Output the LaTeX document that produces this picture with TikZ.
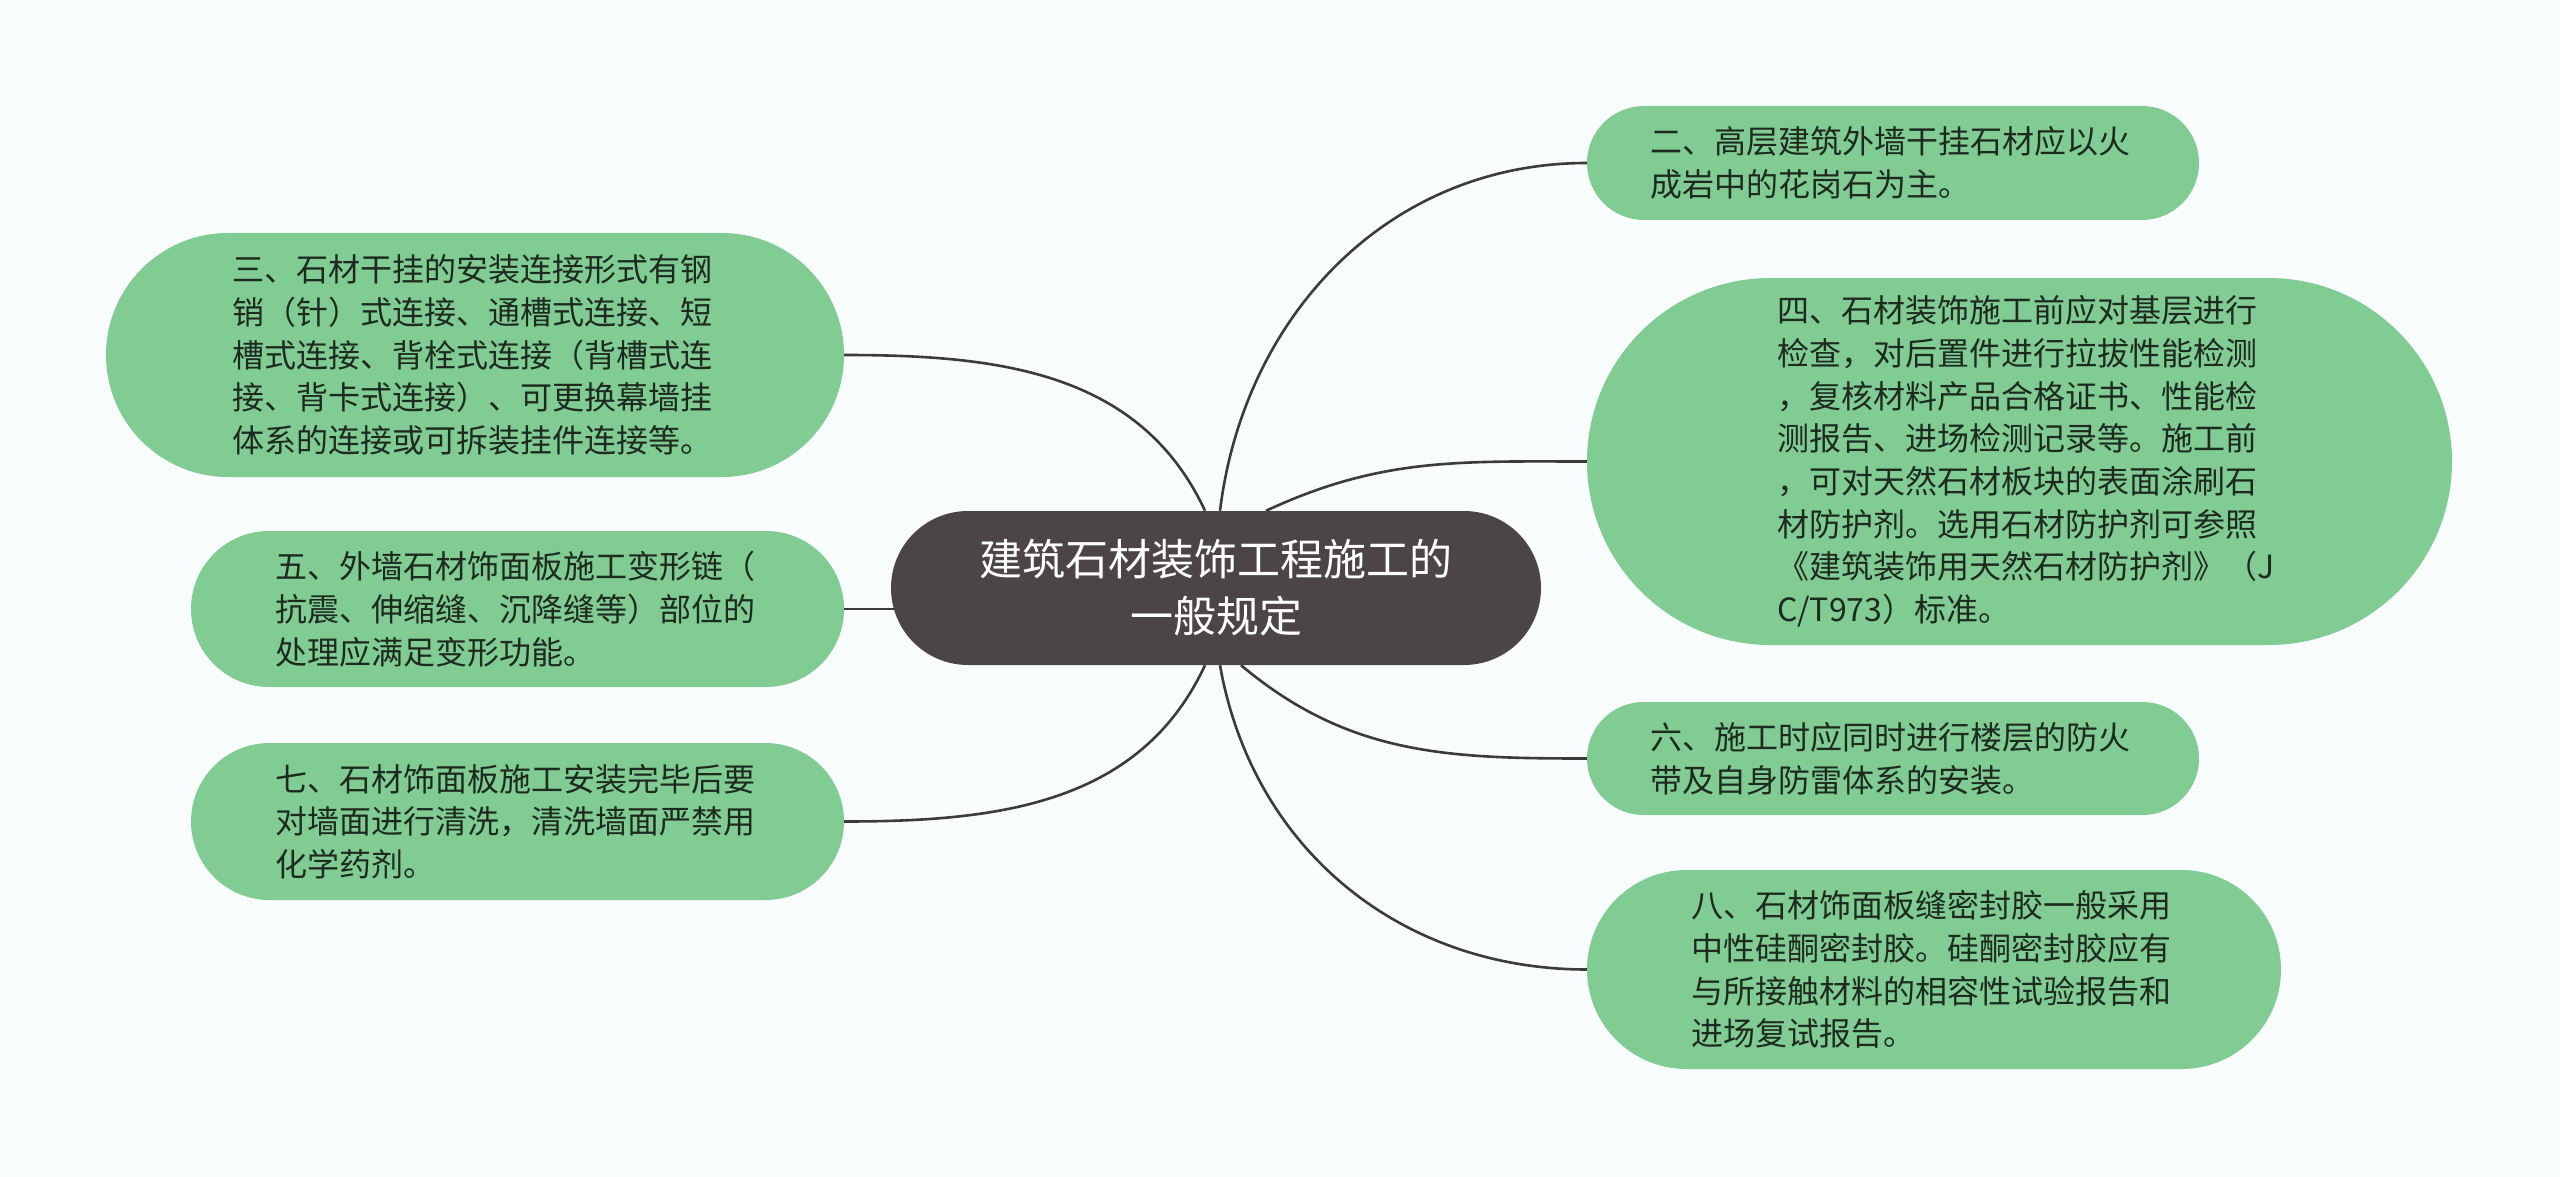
\documentclass[tikz,border=0pt]{standalone}
\usepackage{fontspec}
\setmainfont{Noto Sans CJK SC}
\usetikzlibrary{shapes.misc}
\pgfdeclarelayer{bg}
\pgfdeclarelayer{edges}
\pgfsetlayers{bg,edges,main}
\definecolor{bgc}{HTML}{F8FCFC}
\definecolor{leaf}{HTML}{80CC93}
\definecolor{rootc}{HTML}{4B4546}
\definecolor{linec}{HTML}{3C3A3A}
\definecolor{txt}{HTML}{1E2A20}
\tikzset{
  leafbox/.style={shape=rounded rectangle, fill=leaf, inner sep=0pt, text width=485pt, align=left, text=txt, font=\fontsize{32}{42.7}\selectfont},
  rootbox/.style={shape=rounded rectangle, fill=rootc, inner sep=0pt, align=center, text=white, font=\fontsize{43}{57}\selectfont},
  link/.style={draw=linec, line width=2.6pt}
}
\begin{document}
\begin{tikzpicture}[x=1pt,y=1pt]
\begin{pgfonlayer}{bg}
\path[use as bounding box, fill=bgc] (0,0) rectangle (2560,-1177);
\end{pgfonlayer}

\node[rootbox, minimum width=650pt, minimum height=154pt] (c) at (1216,-588)
  {建筑石材装饰工程施工的\\一般规定};

\node[leafbox, minimum width=738pt, minimum height=244pt] (n3) at (475,-355)
  {三、石材干挂的安装连接形式有钢\\销（针）式连接、通槽式连接、短\\槽式连接、背栓式连接（背槽式连\\接、背卡式连接）、可更换幕墙挂\\体系的连接或可拆装挂件连接等。};
\node[leafbox, minimum width=653pt, minimum height=156pt] (n5) at (517.5,-609)
  {五、外墙石材饰面板施工变形链（\\抗震、伸缩缝、沉降缝等）部位的\\处理应满足变形功能。};
\node[leafbox, minimum width=653pt, minimum height=157pt] (n7) at (517.5,-821.5)
  {七、石材饰面板施工安装完毕后要\\对墙面进行清洗，清洗墙面严禁用\\化学药剂。};

\node[leafbox, minimum width=612pt, minimum height=114pt] (n2) at (1893,-163)
  {二、高层建筑外墙干挂石材应以火\\成岩中的花岗石为主。};
\node[leafbox, minimum width=865pt, minimum height=367pt] (n4) at (2019.5,-461.5)
  {四、石材装饰施工前应对基层进行\\检查，对后置件进行拉拔性能检测\\，复核材料产品合格证书、性能检\\测报告、进场检测记录等。施工前\\，可对天然石材板块的表面涂刷石\\材防护剂。选用石材防护剂可参照\\《建筑装饰用天然石材防护剂》（J\\C/T973）标准。};
\node[leafbox, minimum width=612pt, minimum height=113pt] (n6) at (1893,-758.5)
  {六、施工时应同时进行楼层的防火\\带及自身防雷体系的安装。};
\node[leafbox, minimum width=694pt, minimum height=199pt] (n8) at (1934,-969.5)
  {八、石材饰面板缝密封胶一般采用\\中性硅酮密封胶。硅酮密封胶应有\\与所接触材料的相容性试验报告和\\进场复试报告。};

\begin{pgfonlayer}{edges}
\draw[link] ([xshift=-11pt]c.north) to[out=115,in=0] (n3.east);
\draw[link] (n5.east) -- (c.center |- n5.east);
\draw[link] ([xshift=-11pt]c.south) to[out=-115,in=0] (n7.east);
\draw[link] ([xshift=4pt]c.north) to[out=83,in=180] (n2.west);
\draw[link] ([xshift=50pt]c.north) to[out=25,in=180] (n4.west);
\draw[link] ([xshift=25pt]c.south) to[out=-40,in=180] (n6.west);
\draw[link] ([xshift=4pt]c.south) to[out=-80,in=180] (n8.west);
\end{pgfonlayer}
\end{tikzpicture}
\end{document}
